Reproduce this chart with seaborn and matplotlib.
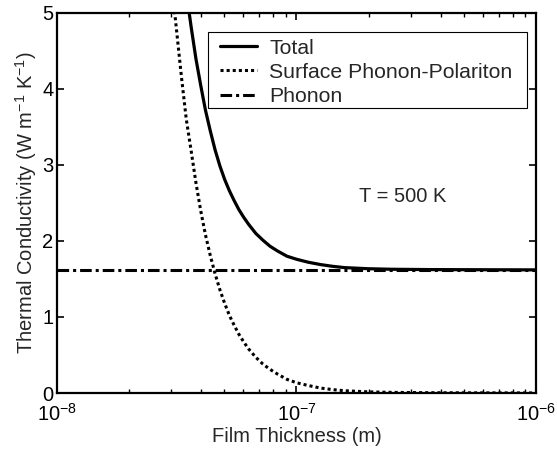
import numpy as np
import pandas as pd
import matplotlib
matplotlib.use("Agg")
import matplotlib.pyplot as plt
from matplotlib.patches import Rectangle
import seaborn as sns

# ---- data ----
spp_x = [2.884e-8, 3.020e-8, 3.162e-8, 3.311e-8, 3.467e-8, 3.631e-8, 3.802e-8, 3.981e-8,
         4.169e-8, 4.365e-8, 4.571e-8, 4.786e-8, 5.012e-8, 5.248e-8, 5.495e-8, 5.754e-8,
         6.026e-8, 6.310e-8, 6.761e-8, 7.244e-8, 7.762e-8, 8.318e-8, 9.120e-8, 1.0e-7,
         1.122e-7, 1.259e-7, 1.413e-7, 1.585e-7, 1.995e-7, 2.512e-7, 3.548e-7, 5.623e-7,
         1.0e-6]
spp_y = [6.0, 5.35, 4.75, 4.15, 3.60, 3.19, 2.77, 2.40,
         2.08, 1.81, 1.57, 1.36, 1.18, 1.02, 0.89, 0.77,
         0.67, 0.58, 0.47, 0.38, 0.31, 0.25, 0.18, 0.135,
         0.098, 0.065, 0.045, 0.030, 0.015, 0.008, 0.004, 0.002,
         0.001]

total_x = [3.388e-8, 3.467e-8, 3.631e-8, 3.802e-8, 3.981e-8, 4.169e-8, 4.365e-8, 4.571e-8,
           4.786e-8, 5.012e-8, 5.248e-8, 5.495e-8, 5.754e-8, 6.026e-8, 6.310e-8, 6.761e-8,
           7.244e-8, 7.762e-8, 8.318e-8, 9.120e-8, 1.0e-7, 1.122e-7, 1.259e-7, 1.413e-7,
           1.585e-7, 1.995e-7, 2.512e-7, 3.548e-7, 5.623e-7, 1.0e-6]
total_y = [5.50, 5.27, 4.82, 4.40, 4.05, 3.72, 3.45, 3.20,
           2.99, 2.81, 2.66, 2.53, 2.41, 2.31, 2.22, 2.10,
           2.01, 1.93, 1.87, 1.80, 1.76, 1.72, 1.69, 1.667,
           1.65, 1.635, 1.628, 1.624, 1.622, 1.62]

phonon_x = [1e-8, 1e-6]
phonon_y = [1.62, 1.62]

labels = ["Total", "Surface Phonon-Polariton", "Phonon"]
annotation = "T = 500 K"

# ---- style ----
sns.set_theme(style="ticks", rc={"xtick.direction": "in", "ytick.direction": "in"})
plt.rcParams["font.family"] = ["Liberation Sans", "DejaVu Sans"]
plt.rcParams["mathtext.fontset"] = "custom"
plt.rcParams["mathtext.rm"] = "Liberation Sans"
plt.rcParams["mathtext.it"] = "Liberation Sans"
plt.rcParams["mathtext.default"] = "regular"
plt.rcParams["axes.unicode_minus"] = False

FS = 14.5
fig = plt.figure(figsize=(5.57, 4.51), dpi=100)
ax = fig.add_axes([0.1023, 0.1286, 0.8600, 0.8426])

sns.lineplot(x=total_x, y=total_y, ax=ax, color="black", lw=2.3,
             label=labels[0], sort=False)
sns.lineplot(x=spp_x, y=spp_y, ax=ax, color="black", lw=2.2,
             linestyle=(0, (1, 1)), label=labels[1], sort=False)
sns.lineplot(x=phonon_x, y=phonon_y, ax=ax, color="black", lw=2.2,
             linestyle=(0, (3.8, 1.3, 1, 1.3)), label=labels[2], sort=False)

ax.set_xscale("log")
ax.set_xlim(1e-8, 1e-6)
ax.set_ylim(0, 5)
ax.set_yticks([0, 1, 2, 3, 4, 5])
ax.set_xticks([1e-8, 1e-7, 1e-6])

for s in ax.spines.values():
    s.set_visible(True)
    s.set_color("black")
    s.set_linewidth(1.6)

ax.tick_params(which="both", direction="in", top=True, right=True,
               colors="black", labelsize=FS)
ax.tick_params(which="major", length=5, width=1.2)
ax.tick_params(which="minor", length=3, width=1.0)
ax.tick_params(axis="x", which="major", pad=7)
ax.tick_params(axis="y", which="major", pad=2.5)

ax.set_xlabel("Film Thickness (m)", fontsize=FS, labelpad=1.5)
ax.set_ylabel(r"Thermal Conductivity (W m$^{-1}$ K$^{-1}$)", fontsize=FS, labelpad=2)

ax.text(2.78e-7, 2.58, annotation, fontsize=FS, ha="center", va="center")

# legend frame drawn as a box, legend entries without frame
ax.add_patch(Rectangle((0.3152, 0.75), 0.666, 0.20, transform=ax.transAxes,
                       facecolor="white", edgecolor="black", linewidth=0.8, zorder=4))
leg = ax.legend(loc="upper left", bbox_to_anchor=(0.3403, 0.932), borderaxespad=0,
                fontsize=15.3, frameon=False,
                handlelength=1.75, handletextpad=0.56, labelspacing=0.24,
                borderpad=0)
leg.set_zorder(5)

fig.savefig("out.png", dpi=100)
